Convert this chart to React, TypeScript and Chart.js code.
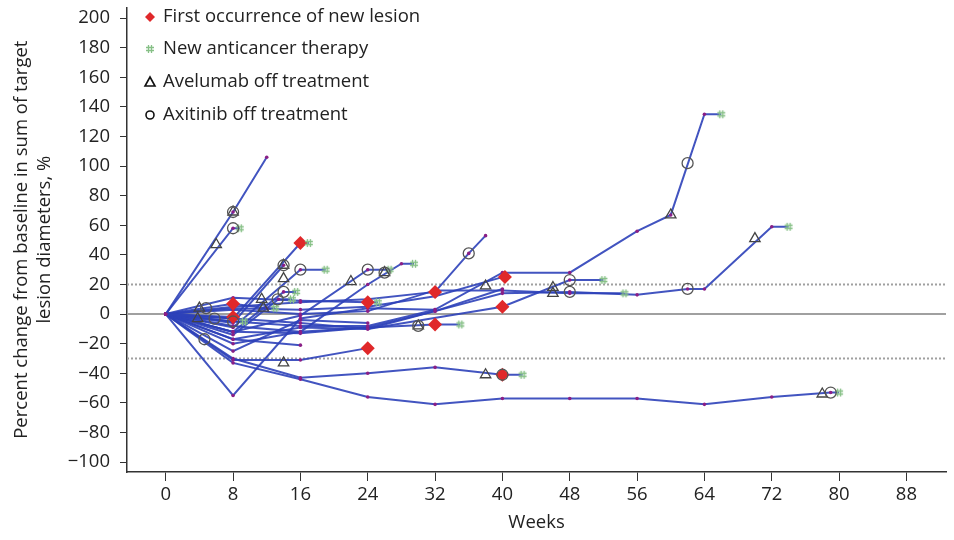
import React, { useEffect, useRef } from "react";
import { Chart, registerables } from "chart.js";

Chart.register(...registerables);

// ---- Data (weeks, % change) ----
const xTicks = [0, 8, 16, 24, 32, 40, 48, 56, 64, 72, 80, 88];
const yTicks = [-100, -80, -60, -40, -20, 0, 20, 40, 60, 80, 100, 120, 140, 160, 180, 200];

const p01 = [[0, 0], [8, 69], [12, 106]];
const p02 = [[0, 0], [8, 58], [8.8, 58]];
const p03 = [[0, 0], [8, -3], [16, 48], [17, 48]];
const p04 = [[0, 0], [8, -6], [14, 33]];
const p05 = [[0, 0], [8, -9], [16, 30], [19, 30]];
const p06 = [[0, 0], [8, -12], [14, 15], [15.5, 15]];
const p07 = [[0, 0], [8, -14], [13.4, 10], [15, 10]];
const p08 = [[0, 0], [8, 11], [16, 9], [24, 8], [25.2, 8]];
const p09 = [[0, 0], [8, 7], [12, 4], [13, 4]];
const p10 = [[0, 0], [8, -12], [16, -1], [24, 30], [26.6, 30]];
const p11 = [[0, 0], [8, -8], [16, -12], [24, 20], [28, 34], [29.5, 34]];
const p12 = [[0, 0], [8, 5], [16, 8], [24, 10], [32, 15], [36, 41], [38, 53]];
const p13 = [[0, 0], [8, -17], [16, -9], [24, -10], [40, 5], [48, 23], [52, 23]];
const p14 = [[0, 0], [8, 3], [16, 0], [24, 2], [32, 16], [40, 16], [48, 14], [54.5, 14]];
const p15 = [[0, 0], [8, -3], [16, -6], [24, -10], [32, 2], [40, 14], [48, 15], [56, 13], [62, 17], [64, 17], [72, 59], [74, 59]];
const p16 = [[0, 0], [8, -5], [16, -8], [24, -8], [32, 3], [40, 28], [48, 28], [56, 56], [60, 67], [64, 135], [66, 135]];
const p17 = [[0, 0], [8, 4], [16, 3], [24, 5], [32, 12], [40, 25]];
const p18 = [[0, 0], [8, -55], [16, -3], [24, 4], [32, 3]];
const p19 = [[0, 0], [8, -20], [16, -12], [24, -9], [32, -7], [35, -7]];
const p20 = [[0, 0], [8, -17], [16, -21]];
const p21 = [[0, 0], [8, -31], [16, -31], [24, -23]];
const p22 = [[0, 0], [8, -30], [16, -43], [24, -40], [32, -36], [40, -41], [42.4, -41]];
const p23 = [[0, 0], [8, -33], [16, -44], [24, -56], [32, -61], [40, -57], [48, -57], [56, -57], [64, -61], [72, -56], [79, -53], [80, -53]];
const p24 = [[0, 0], [8, -5], [9.3, -5]];
const p25 = [[0, 0], [8, -2]];
const p26 = [[0, 0], [8, -25], [16, -4], [24, -6]];
const p27 = [[0, 0], [8, -12], [16, -13], [24, -9], [32, 2], [40, 17]];

const patients = [p01, p02, p03, p04, p05, p06, p07, p08, p09, p10, p11, p12, p13, p14, p15, p16, p17, p18, p19, p20, p21, p22, p23, p24, p25, p26, p27];

const newLesion = [[16, 48], [8, 7], [8, -2], [24, 8], [32, 15], [40.3, 25], [40, 5], [32, -7], [24, -23], [40, -41]];
const newTherapy = [[8.8, 58], [17, 48], [19, 30], [15.5, 15], [15, 10], [13, 4], [25.2, 8], [26.6, 30], [29.5, 34], [35, -7], [42.4, -41], [52, 23], [54.5, 14], [66, 135], [74, 59], [80, -53], [9.3, -5]];
const avelumabOff = [[8, 69], [6, 47], [14, 33], [14, 24], [11.4, 10], [11.6, 4], [22, 22], [26, 28], [30, -8], [38, 19], [46, 18], [46, 14], [60, 67], [70, 51], [78, -54], [14, -33], [38, -41], [4, 4], [3.8, -3]];
const axitinibOff = [[8, 69], [8, 58], [14, 33], [16, 30], [14, 15], [13.3, 10], [24, 30], [26, 28], [30, -8], [36, 41], [48, 23], [48, 15], [62, 102], [62, 17], [79, -53], [40, -41], [4.8, 4], [5.8, -3], [4.6, -17], [8, -5]];

const legendLabels = ["First occurrence of new lesion", "New anticancer therapy", "Avelumab off treatment", "Axitinib off treatment"];

const X_MIN = -4.6;
const X_MAX = 92.7;
const FONT = "'Open Sans', 'Noto Sans', sans-serif";
const FS = 18.5;

const toXY = (arr: number[][]) => arr.map(([x, y]) => ({ x, y }));
const fmt = (v: number) => (v < 0 ? "\u2212" + Math.abs(v) : String(v));

function makeHash(): HTMLCanvasElement {
  const c = document.createElement("canvas");
  c.width = 12;
  c.height = 12;
  const g = c.getContext("2d")!;
  g.strokeStyle = "#86c086";
  g.lineWidth = 1.3;
  g.beginPath();
  g.moveTo(4.5, 2); g.lineTo(4.5, 10);
  g.moveTo(7.5, 2); g.lineTo(7.5, 10);
  g.moveTo(2, 4.5); g.lineTo(10, 4.5);
  g.moveTo(2, 7.5); g.lineTo(10, 7.5);
  g.stroke();
  return c;
}

function makeLegendPlugin(hash: HTMLCanvasElement) {
  return {
    id: "customLegend",
    afterDraw(chart: any) {
      const ctx = chart.ctx as CanvasRenderingContext2D;
      const ys = [17, 49, 82, 115];
      const mx = 150;
      ctx.save();
      ys.forEach((y, i) => {
        if (i === 0) {
          ctx.fillStyle = "#e0282a";
          ctx.beginPath();
          ctx.moveTo(mx, y - 5); ctx.lineTo(mx + 5, y); ctx.lineTo(mx, y + 5); ctx.lineTo(mx - 5, y);
          ctx.closePath(); ctx.fill();
        } else if (i === 1) {
          ctx.drawImage(hash, mx - 6, y - 6);
        } else if (i === 2) {
          ctx.strokeStyle = "#111"; ctx.lineWidth = 1.6;
          ctx.beginPath();
          ctx.moveTo(mx, y - 5); ctx.lineTo(mx + 5, y + 4); ctx.lineTo(mx - 5, y + 4);
          ctx.closePath(); ctx.stroke();
        } else {
          ctx.strokeStyle = "#111"; ctx.lineWidth = 1.6;
          ctx.beginPath(); ctx.arc(mx, y, 4, 0, Math.PI * 2); ctx.stroke();
        }
        ctx.fillStyle = "#222";
        ctx.font = `${FS}px ${FONT}`;
        ctx.textAlign = "left";
        ctx.textBaseline = "middle";
        ctx.fillText(legendLabels[i], mx + 13, y);
      });
      ctx.restore();
    },
  };
}

export default function App() {
  const ref = useRef<HTMLCanvasElement | null>(null);
  useEffect(() => {
    if (!ref.current) return;
    const hash = makeHash();
    const isHashPt = (x: number, y: number) => newTherapy.some(([hx, hy]) => hx === x && hy === y);

    const lineSets = patients.map((p) => ({
      type: "line" as const,
      data: toXY(p),
      borderColor: "rgba(45,65,185,0.9)",
      borderWidth: 2,
      pointRadius: p.map(([x, y]) => (isHashPt(x, y) ? 0 : 1.8)),
      pointBackgroundColor: "#8a1f86",
      pointBorderWidth: 0,
      tension: 0,
      order: 5,
    }));

    const refLine = (y: number, dash: number[], w: number) => ({
      type: "line" as const,
      data: [{ x: X_MIN, y }, { x: X_MAX, y }],
      borderColor: "#a0a0a0",
      borderWidth: w,
      borderDash: dash,
      pointRadius: 0,
      order: 10,
    });

    const chart = new Chart(ref.current, {
      type: "line",
      data: {
        datasets: [
          {
            type: "scatter" as const,
            data: toXY(axitinibOff),
            pointStyle: "circle",
            pointRadius: 5.5,
            pointBackgroundColor: "rgba(0,0,0,0)",
            pointBorderColor: "#555",
            pointBorderWidth: 1.3,
            order: 1,
          },
          {
            type: "scatter" as const,
            data: toXY(avelumabOff),
            pointStyle: "triangle",
            pointRadius: 6,
            pointBackgroundColor: "rgba(0,0,0,0)",
            pointBorderColor: "#444",
            pointBorderWidth: 1.3,
            order: 2,
          },
          {
            type: "scatter" as const,
            data: toXY(newTherapy),
            pointStyle: hash,
            order: 3,
          },
          {
            type: "scatter" as const,
            data: toXY(newLesion),
            pointStyle: "rectRot",
            pointRadius: 7,
            pointBackgroundColor: "#e0282a",
            pointBorderColor: "#e0282a",
            pointBorderWidth: 0,
            order: 4,
          },
          ...lineSets,
          refLine(0, [], 2),
          refLine(20, [2, 2], 2),
          refLine(-30, [2, 2], 2),
        ] as any,
      },
      options: {
        animation: false,
        responsive: true,
        maintainAspectRatio: false,
        layout: { padding: { top: 5, right: 8, left: 0, bottom: 0 } },
        plugins: { legend: { display: false }, tooltip: { enabled: false } },
        scales: {
          x: {
            type: "linear",
            min: X_MIN,
            max: X_MAX,
            afterBuildTicks: (s: any) => { s.ticks = xTicks.map((v) => ({ value: v })); },
            afterFit: (s: any) => { s.height = 68; s.paddingLeft = 0; s.paddingRight = 0; },
            grid: { drawOnChartArea: false, drawTicks: true, tickLength: 9, color: "#333" },
            border: { display: true, color: "#333", width: 1.5 },
            ticks: { font: { family: FONT, size: FS }, color: "#222", padding: 3, maxRotation: 0, callback: (v: any) => fmt(Number(v)) },
            title: { display: true, text: "Weeks", font: { family: FONT, size: FS }, color: "#222", padding: { top: 2, bottom: 6 } },
          },
          y: {
            type: "linear",
            min: -106.7,
            max: 207.3,
            afterBuildTicks: (s: any) => { s.ticks = yTicks.map((v) => ({ value: v })); },
            afterFit: (s: any) => { s.width = 127; s.paddingTop = 0; s.paddingBottom = 0; },
            grid: { drawOnChartArea: false, drawTicks: true, tickLength: 7, color: "#333" },
            border: { display: true, color: "#333", width: 1.5 },
            ticks: { font: { family: FONT, size: FS }, color: "#222", padding: 10, callback: (v: any) => fmt(Number(v)) },
            title: {
              display: true,
              text: ["Percent change from baseline in sum of target", "lesion diameters, %"],
              font: { family: FONT, size: FS, lineHeight: 1.25 },
              color: "#222",
              padding: { top: 10, bottom: 0 },
            },
          },
        },
      },
      plugins: [makeLegendPlugin(hash)],
    });
    return () => chart.destroy();
  }, []);

  return (
    <div style={{ position: "fixed", left: 0, top: 0, width: 954, height: 540, background: "#fff" }}>
      <canvas ref={ref} />
    </div>
  );
}
